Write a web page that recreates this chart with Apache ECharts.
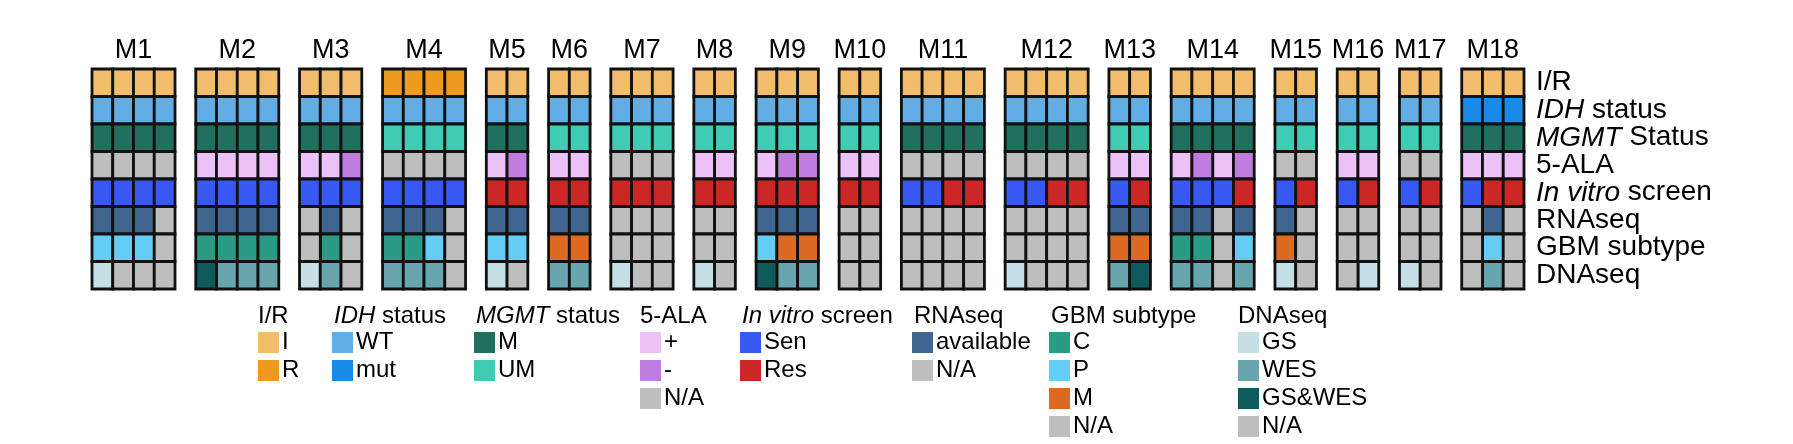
<!DOCTYPE html>
<html>
<head>
<meta charset="utf-8">
<script src="https://cdn.jsdelivr.net/npm/echarts@6/dist/echarts.min.js"></script>
<style>
html,body{margin:0;padding:0;background:#fff;}
#chart{width:1793px;height:444px;}
</style>
</head>
<body>
<div id="chart"></div>
<script>
// ---------- DATA ----------
const groups = ['M1','M2','M3','M4','M5','M6','M7','M8','M9','M10','M11','M12','M13','M14','M15','M16','M17','M18'];
const rowLabels = ['I/R','IDH status','MGMT Status','5-ALA','In vitro screen','RNAseq','GBM subtype','DNAseq'];

// one string per group, one token per sample
const irRow = ['I I I I','I I I I','I I I','R R R R','I I','I I','I I I','I I','I I I','I I','I I I I','I I I I','I I','I I I I','I I','I I','I I','I I I'];
const idhRow = ['WT WT WT WT','WT WT WT WT','WT WT WT','WT WT WT WT','WT WT','WT WT','WT WT WT','WT WT','WT WT WT','WT WT','WT WT WT WT','WT WT WT WT','WT WT','WT WT WT WT','WT WT','WT WT','WT WT','mut mut mut'];
const mgmtRow = ['M M M M','M M M M','M M M','UM UM UM UM','M M','UM UM','UM UM UM','UM UM','UM UM UM','UM UM','M M M M','M M M M','UM UM','M M M M','UM UM','UM UM','UM UM','M M M'];
const alaRow = ['N/A N/A N/A N/A','+ + + +','+ + -','N/A N/A N/A N/A','+ -','+ +','N/A N/A N/A','+ +','+ - -','+ +','N/A N/A N/A N/A','N/A N/A N/A N/A','+ +','+ - + -','N/A N/A','+ +','N/A N/A','+ + +'];
const screenRow = ['Sen Sen Sen Sen','Sen Sen Sen Sen','Sen Sen Sen','Sen Sen Sen Sen','Res Res','Res Res','Res Res Res','Res Res','Res Res Res','Res Res','Sen Sen Res Res','Sen Sen Res Res','Sen Res','Sen Sen Sen Res','Sen Res','Sen Res','Sen Res','Sen Res Res'];
const rnaRow = ['available available available N/A','available available available available','N/A available N/A','available available available N/A','available available','available available','N/A N/A N/A','N/A N/A','available available available','N/A N/A','N/A N/A N/A N/A','N/A N/A N/A N/A','available available','available available N/A available','available N/A','N/A N/A','N/A N/A','N/A available N/A'];
const gbmRow = ['P P P N/A','C C C C','N/A C N/A','C C P N/A','P P','M M','N/A N/A N/A','N/A N/A','P M M','N/A N/A','N/A N/A N/A N/A','N/A N/A N/A N/A','M M','C C N/A P','M N/A','N/A N/A','N/A N/A','N/A P N/A'];
const dnaRow = ['GS N/A N/A N/A','GS&WES WES WES WES','GS WES N/A','WES WES WES N/A','GS N/A','WES WES','GS N/A N/A','GS N/A','GS&WES WES WES','N/A N/A','N/A N/A N/A N/A','GS N/A N/A N/A','WES GS&WES','WES WES N/A WES','GS N/A','N/A GS','GS N/A','N/A WES N/A'];

const legendTitles = ['I/R','{i|IDH} status','{i|MGMT} status','5-ALA','{i|In vitro} screen','RNAseq','GBM subtype','DNAseq'];
const legendCats = [
  ['I','R'], ['WT','mut'], ['M','UM'], ['+','-','N/A'],
  ['Sen','Res'], ['available','N/A'], ['C','P','M','N/A'], ['GS','WES','GS&WES','N/A']
];

// ---------- STYLE ----------
const catColors = [
  {'I':'#F2BD6B','R':'#EE9A1C'},
  {'WT':'#63ADE5','mut':'#1A8AE8'},
  {'M':'#216F5F','UM':'#3ECDB4'},
  {'+':'#EBC1F7','-':'#C07DE0','N/A':'#BEBEBE'},
  {'Sen':'#3758F2','Res':'#CC2727'},
  {'available':'#3F6690','N/A':'#BEBEBE'},
  {'C':'#2A9B84','P':'#64CDF5','M':'#DD6A22','N/A':'#BEBEBE'},
  {'GS':'#C5DFE6','WES':'#68A6AF','GS&WES':'#0E5A5C','N/A':'#BEBEBE'}
];
const legendX = [258, 332, 474, 640, 740, 912, 1049, 1238];
const FONT = '"Liberation Sans", Arial, Helvetica, sans-serif';

// ---------- BUILD ----------
const rowData = [irRow, idhRow, mgmtRow, alaRow, screenRow, rnaRow, gbmRow, dnaRow];
const rowKeys = ['IR','IDH','MGMT','ALA','SCR','RNA','GBM','DNA'];
const counts = irRow.map(s => s.split(' ').length);
const starts = [];
let pos = 0;
counts.forEach((c, i) => { starts.push(pos); pos += c + 1; });
const totalSlots = pos - 1;
const centers = starts.map((s, i) => s + counts[i] / 2);

const seriesMap = {};
const series = [];
rowData.forEach((row, r) => {
  legendCats[r].forEach(cat => {
    const name = rowKeys[r] + '|' + cat;
    const color = catColors[r][cat];
    const s = {
      name: name,
      type: 'custom',
      xAxisIndex: 0,
      yAxisIndex: 0,
      silent: true,
      animation: false,
      itemStyle: {color: color},
      data: [],
      renderItem: function (params, api) {
        const xv = api.value(0), yv = api.value(1);
        const p = api.coord([xv, yv]);
        const size = api.size([1, 1]);
        return {
          type: 'rect',
          shape: {x: p[0], y: p[1] - size[1] / 2, width: size[0], height: size[1]},
          style: {fill: color, stroke: '#111', lineWidth: 2.8}
        };
      }
    };
    seriesMap[name] = s;
    series.push(s);
  });
  row.forEach((str, g) => {
    str.split(' ').forEach((val, j) => {
      seriesMap[rowKeys[r] + '|' + val].data.push([starts[g] + j, r]);
    });
  });
});

const richI = {
  i: {fontStyle: 'italic', fontSize: 28, fontFamily: FONT, color: '#000'},
  n: {fontSize: 28, fontFamily: FONT, color: '#000'}
};
function rowLabelFmt(v) {
  if (v === 'IDH status') return '{i|IDH}{n| status}';
  if (v === 'MGMT Status') return '{i|MGMT}{n| Status}';
  if (v === 'In vitro screen') return '{i|In vitro}{n| screen}';
  return '{n|' + v + '}';
}

const legends = legendCats.map((cats, r) => ({
  orient: 'vertical',
  left: legendX[r],
  top: 330.5,
  padding: 0,
  itemWidth: 21,
  itemHeight: 21,
  itemGap: 4,
  icon: 'rect',
  selectedMode: false,
  data: cats.map(c => rowKeys[r] + '|' + c),
  formatter: function (name) { return name.split('|')[1]; },
  textStyle: {fontSize: 24, color: '#000', fontFamily: FONT, padding: [0, 0, 0, -2]}
}));

const titles = legendTitles.map((t, r) => ({
  text: t,
  left: legendX[r] + (r === 0 || r === 3 || r === 7 ? 0 : 2),
  top: 304,
  padding: 0,
  textStyle: {
    fontSize: 24, fontWeight: 'normal', color: '#000', fontFamily: FONT,
    rich: {i: {fontStyle: 'italic', fontSize: 24, fontFamily: FONT, color: '#000'}}
  }
}));

const chart = echarts.init(document.getElementById('chart'), null, {renderer: 'canvas'});
chart.setOption({
  animation: false,
  backgroundColor: '#fff',
  title: titles,
  legend: legends,
  grid: {left: 92, width: 1432, top: 69, height: 220},
  xAxis: [
    {type: 'value', min: 0, max: totalSlots, show: false, splitLine: {show: false}},
    {
      type: 'value', min: 0, max: totalSlots, position: 'top',
      axisLine: {show: false}, axisTick: {show: false}, splitLine: {show: false},
      axisLabel: {
        customValues: centers,
        margin: 5,
        fontSize: 27,
        color: '#000',
        fontFamily: FONT,
        hideOverlap: false,
        formatter: function (v) {
          const idx = centers.findIndex(c => Math.abs(c - v) < 1e-6);
          return idx >= 0 ? groups[idx] : '';
        }
      }
    }
  ],
  yAxis: {
    type: 'category',
    data: rowLabels,
    inverse: true,
    position: 'right',
    axisLine: {show: false}, axisTick: {show: false}, splitLine: {show: false},
    axisLabel: {interval: 0, hideOverlap: false, margin: 12, fontSize: 28, color: '#000', fontFamily: FONT, formatter: rowLabelFmt, rich: richI}
  },
  series: series
});
</script>
</body>
</html>
